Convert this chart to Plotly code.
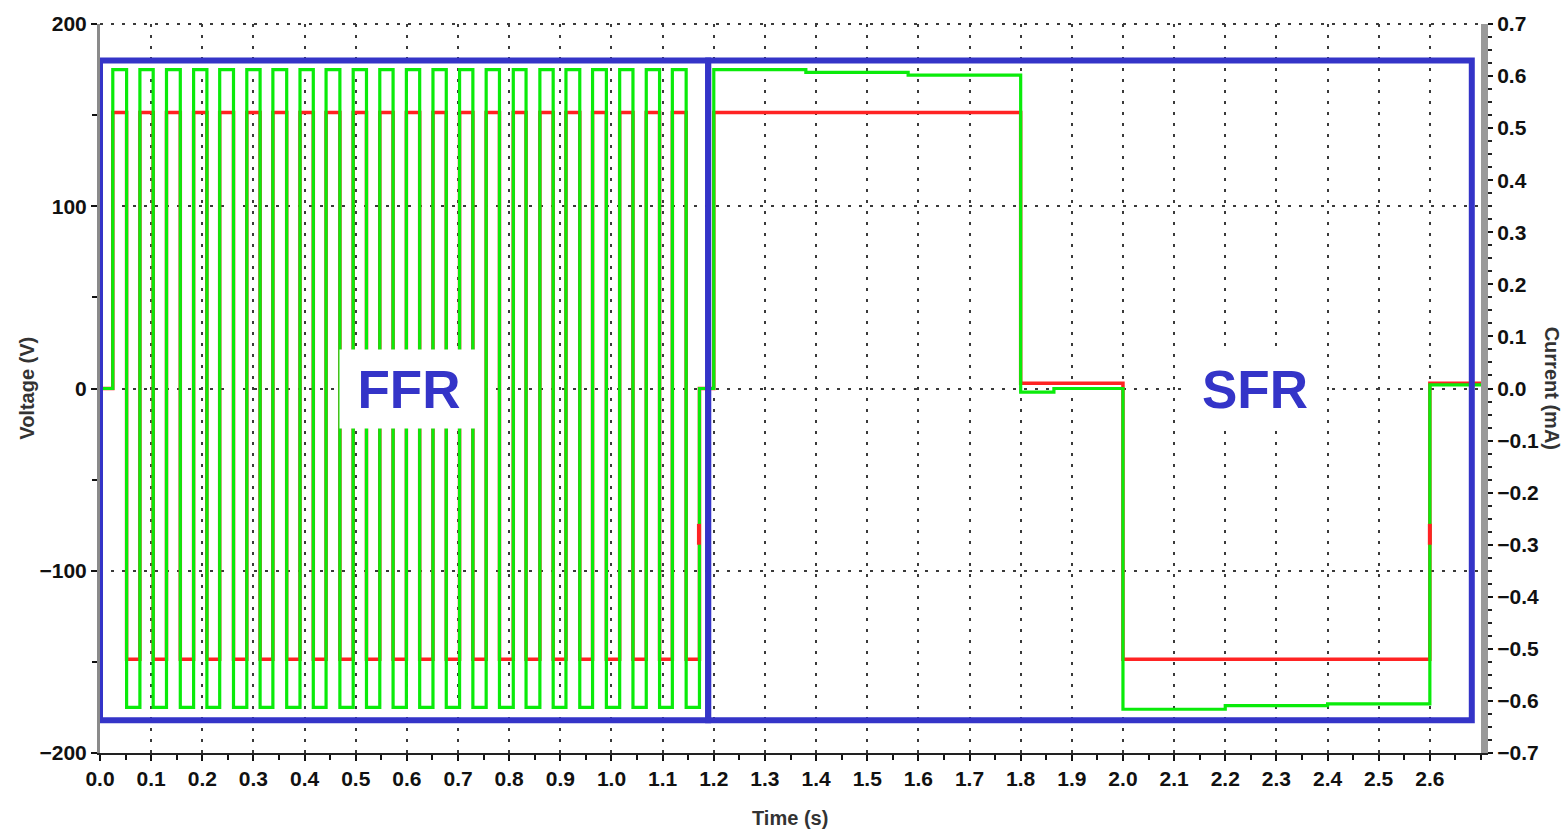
import plotly.graph_objects as go

# ---- FFR stage: bipolar pulse train (switching instants in seconds) ----
ffr_rise_t = [0.025, 0.078, 0.130, 0.183, 0.234, 0.287, 0.338, 0.391, 0.442, 0.495, 0.547,
              0.599, 0.651, 0.703, 0.755, 0.808, 0.860, 0.911, 0.963, 1.016, 1.068, 1.119]
ffr_fall_t = [0.052, 0.104, 0.157, 0.209, 0.261, 0.313, 0.365, 0.417, 0.469, 0.521, 0.573,
              0.625, 0.677, 0.729, 0.781, 0.833, 0.886, 0.938, 0.990, 1.042, 1.094, 1.146]
ffr_end_t = 1.172
ffr_v_high = 175.0
ffr_v_low = -175.0
ffr_i_high = 0.53
ffr_i_low = -0.52

# ---- SFR stage: slow steps (value holds until the next instant) ----
sfr_v_t = [1.2, 1.38, 1.58, 1.8, 1.865, 2.0, 2.2, 2.4, 2.6, 2.7]
sfr_v = [175.0, 173.5, 172.0, -2.0, 0.0, -176.0, -174.0, -173.0, 2.0, 2.0]
sfr_i_t = [1.2, 1.8, 2.0, 2.6, 2.7]
sfr_i = [0.53, 0.01, -0.52, 0.01, 0.01]

# current transients visible at the switching back to zero
spike_t = [1.171, 2.6]
spike_lo = [-0.30, -0.30]
spike_hi = [-0.26, -0.26]

# ---- axes ----
x_ticks = [0.0, 0.1, 0.2, 0.3, 0.4, 0.5, 0.6, 0.7, 0.8, 0.9, 1.0, 1.1, 1.2, 1.3,
           1.4, 1.5, 1.6, 1.7, 1.8, 1.9, 2.0, 2.1, 2.2, 2.3, 2.4, 2.5, 2.6]
v_ticks = [-200, -100, 0, 100, 200]
i_ticks = [-0.7, -0.6, -0.5, -0.4, -0.3, -0.2, -0.1, 0.0, 0.1, 0.2, 0.3, 0.4, 0.5, 0.6, 0.7]

# build step sequences
t_v, v = [0.0], [0.0]
t_i, cur = [0.0], [0.0]
for r, f in zip(ffr_rise_t, ffr_fall_t):
    t_v += [r, f]
    v += [ffr_v_high, ffr_v_low]
    t_i += [r, f]
    cur += [ffr_i_high, ffr_i_low]
t_v.append(ffr_end_t); v.append(0.0)
t_i.append(ffr_end_t); cur.append(0.0)
t_v += sfr_v_t; v += sfr_v
t_i += sfr_i_t; cur += sfr_i

GREEN = "rgb(10,235,10)"
RED = "rgb(255,35,35)"
BLUE = "#3434c8"
GRID = "#3a3a3a"
FONT = "Liberation Sans"

fig = go.Figure()

fig.add_trace(go.Scatter(x=t_i, y=cur, mode="lines", line=dict(color=RED, width=3.5, shape="hv"),
                         yaxis="y", showlegend=False, hoverinfo="skip"))
fig.add_trace(go.Scatter(x=t_v, y=v, mode="lines", line=dict(color=GREEN, width=3.2, shape="hv"),
                         yaxis="y2", showlegend=False, hoverinfo="skip"))
sx, sy = [], []
for t0, lo, hi in zip(spike_t, spike_lo, spike_hi):
    sx += [t0, t0, None]
    sy += [lo, hi, None]
fig.add_trace(go.Scatter(x=sx, y=sy, mode="lines", line=dict(color=RED, width=4),
                         yaxis="y3", showlegend=False, hoverinfo="skip"))

grid = dict(showgrid=True, gridcolor=GRID, gridwidth=2, griddash="3px,8px")
tickfont = dict(family=FONT, size=21, color="#111", weight="bold")

fig.update_layout(
    width=1567, height=834,
    margin=dict(l=100, r=86, t=19, b=81),
    paper_bgcolor="white", plot_bgcolor="white",
    xaxis=dict(range=[0, 2.7], tickvals=x_ticks, tickformat=".1f", ticks="outside",
               ticklen=6, tickwidth=2, tickcolor="#111", showline=True, linecolor="#222",
               linewidth=2, zeroline=False, tickfont=tickfont,
               minor=dict(dtick=0.05, ticks="outside", ticklen=5, tickwidth=2, tickcolor="#111"),
               **grid),
    yaxis=dict(range=[-0.7, 0.7], side="right", tickvals=i_ticks, tickformat=".1f",
               ticks="outside", ticklen=5, tickwidth=2, tickcolor="#111", showline=True,
               linecolor="#9a9a9a", linewidth=7, zeroline=False, showgrid=False,
               tickfont=tickfont,
               minor=dict(dtick=0.025, ticks="outside", ticklen=4, tickwidth=2, tickcolor="#222")),
    yaxis2=dict(range=[-200, 200], overlaying="y", side="left", tickvals=v_ticks,
                ticks="outside", ticklen=6, tickwidth=2, tickcolor="#111", showline=True,
                linecolor="#8a8a8a", linewidth=3, zeroline=False, tickfont=tickfont,
                minor=dict(dtick=50, ticks="outside", ticklen=5, tickwidth=2, tickcolor="#111"),
                **grid),
    yaxis3=dict(range=[-0.7, 0.7], overlaying="y", visible=False),
)

# dotted top border of the plotting area
fig.add_shape(type="line", xref="paper", yref="paper", x0=0, x1=1, y0=1, y1=1,
              line=dict(color=GRID, width=2, dash="3px,8px"), layer="below")

# region boxes
fig.add_shape(type="rect", xref="x", yref="y2", x0=0.0, x1=1.189, y0=-182, y1=180,
              line=dict(color=BLUE, width=6), layer="above")
fig.add_shape(type="rect", xref="x", yref="y2", x0=1.189, x1=2.682, y0=-182, y1=180,
              line=dict(color=BLUE, width=6), layer="above")

# region labels
for name, xc in [("FFR", 0.605), ("SFR", 2.258)]:
    fig.add_annotation(x=xc, y=0, xref="x", yref="y2", text=name, showarrow=False,
                       font=dict(family=FONT, size=53, color=BLUE, weight="bold"),
                       bgcolor="white", width=126, height=66, borderpad=6)

# axis titles
title_font = dict(family=FONT, size=20, color="#333", weight="bold")
fig.add_annotation(x=-0.0529, y=0.501, xref="paper", yref="paper", text="Voltage (V)",
                   textangle=-90, showarrow=False, font=title_font,
                   xanchor="center", yanchor="middle")
fig.add_annotation(x=1.0515, y=0.501, xref="paper", yref="paper", text="Current (mA)",
                   textangle=90, showarrow=False, font=title_font,
                   xanchor="center", yanchor="middle")
fig.add_annotation(x=0.4996, y=-0.0886, xref="paper", yref="paper", text="Time (s)",
                   showarrow=False, font=title_font, xanchor="center", yanchor="middle")

fig.write_html("out.html")
